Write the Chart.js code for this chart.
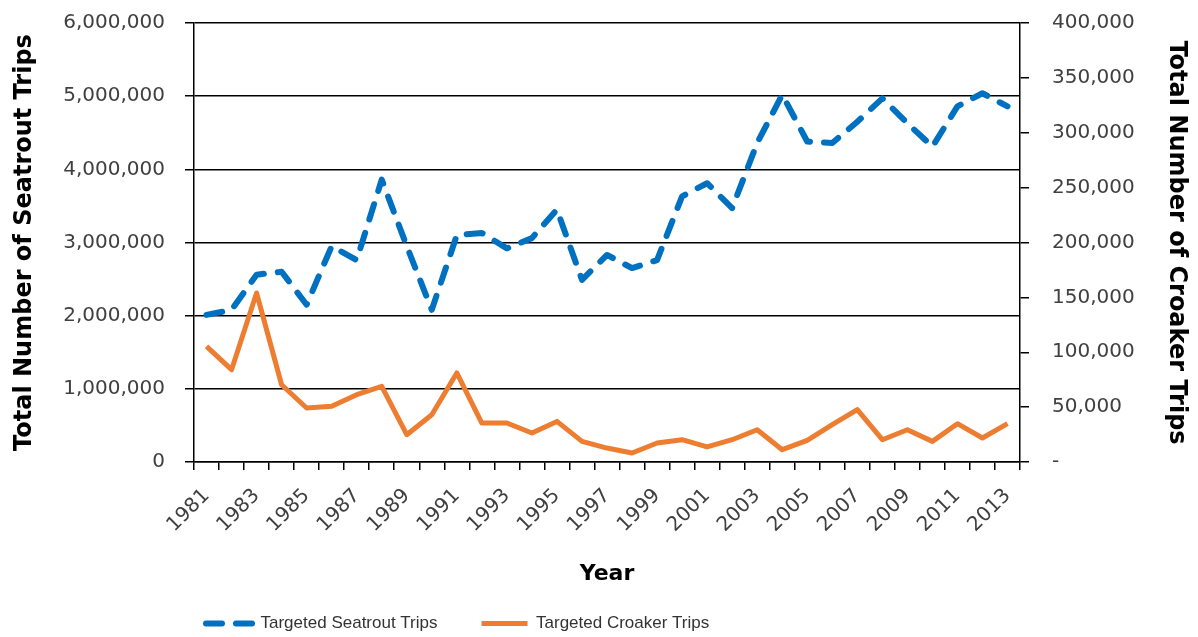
<!DOCTYPE html>
<html>
<head>
<meta charset="utf-8">
<script src="https://cdn.jsdelivr.net/npm/chart.js@4"></script>
<style>
    html, body { margin: 0; padding: 0; background: #ffffff; }
    #wrap { width: 1198px; height: 637px; }
</style>
</head>
<body>
<div id="wrap"><canvas id="chart-trips"></canvas></div>
<script>
const years = ["1981", "1982", "1983", "1984", "1985", "1986", "1987", "1988", "1989", "1990",
    "1991", "1992", "1993", "1994", "1995", "1996", "1997", "1998", "1999", "2000",
    "2001", "2002", "2003", "2004", "2005", "2006", "2007", "2008", "2009", "2010",
    "2011", "2012", "2013"]

const seatroutTrips = [2010000, 2080000, 2560000, 2600000, 2150000, 2950000, 2760000, 3860000, 2950000, 2080000,
    3100000, 3130000, 2920000, 3060000, 3450000, 2490000, 2830000, 2650000, 2760000, 3630000,
    3810000, 3470000, 4360000, 5020000, 4380000, 4360000, 4650000, 4970000, 4630000, 4310000,
    4860000, 5040000, 4860000]

const croakerTrips = [105300, 84100, 154000, 70400, 49200, 50700, 61300, 68900, 24900, 43100,
    81100, 35500, 35500, 26400, 37000, 18800, 12700, 8200, 17300, 20300,
    13700, 20300, 29400, 11200, 19700, 34000, 47700, 20300, 29400, 18800,
    34900, 21900, 34900]

const seatroutTicks = { min: 0, max: 6000000, step: 1000000 }
const croakerTicks = { min: 0, max: 400000, step: 50000 }

const numberFont = { family: "'DejaVu Sans', sans-serif", size: 20 }
const titleFont = { family: "'DejaVu Sans', sans-serif", size: 24, weight: "bold" }

// fixed axis widths; drop the tick padding from the top/bottom overhang
const fitSide = (width) => (scale) => {
    scale.width = width
    scale.paddingTop = 11
    scale.paddingBottom = 11
}

// move the legend under the left half of the plot, like the original
const legendPlacer = {
    id: "legendPlacer",
    afterLayout(chart) {
        const legend = chart.legend
        const pad = legend.options.labels.padding
        legend.left = 206 - pad
        legend.top = 567 + (48 - pad)
    }
}

new Chart(document.getElementById("chart-trips"), {
    type: "line",
    data: {
        labels: years,
        datasets: [{
            label: "Targeted Seatrout Trips",
            data: seatroutTrips,
            yAxisID: "y",
            borderColor: "#0070C0",
            backgroundColor: "#0070C0",
            borderWidth: 6,
            borderDash: [16, 14],
            borderCapStyle: "round",
            borderJoinStyle: "round",
            pointRadius: 0,
            tension: 0
        }, {
            label: "Targeted Croaker Trips",
            data: croakerTrips,
            yAxisID: "y1",
            borderColor: "#ED7D31",
            backgroundColor: "#ED7D31",
            borderWidth: 5,
            borderJoinStyle: "round",
            pointRadius: 0,
            tension: 0
        }]
    },
    options: {
        responsive: true,
        maintainAspectRatio: false,
        animation: false,
        layout: {
            padding: { top: 23, left: 0, right: 0, bottom: 0 }
        },
        plugins: {
            tooltip: { enabled: false },
            legend: {
                position: "bottom",
                align: "start",
                maxHeight: 40,
                labels: {
                    usePointStyle: true,
                    pointStyle: "line",
                    pointStyleWidth: 46,
                    padding: 44,
                    color: "#333333",
                    font: { family: "'Liberation Sans', sans-serif", size: 17 },
                    generateLabels: (chart) => {
                        const items = Chart.defaults.plugins.legend.labels.generateLabels(chart)
                        items.forEach((item) => {
                            const ds = chart.data.datasets[item.datasetIndex]
                            item.lineDash = ds.borderDash || []
                            item.lineCap = ds.borderCapStyle || "butt"
                            item.lineWidth = ds.borderWidth
                            item.strokeStyle = ds.borderColor
                        })
                        return items
                    }
                }
            }
        },
        scales: {
            x: {
                offset: true,
                afterFit: (scale) => { scale.height = 135 },
                grid: {
                    offset: true,
                    drawOnChartArea: false,
                    drawTicks: true,
                    tickLength: 8,
                    color: "#000000",
                    lineWidth: 1.5
                },
                border: { color: "#000000", width: 1.5 },
                ticks: {
                    autoSkip: false,
                    maxRotation: 45,
                    minRotation: 45,
                    padding: 14,
                    color: "#404040",
                    font: { family: "'DejaVu Sans', sans-serif", size: 20 },
                    callback: (value, index) => index % 2 === 0 ? years[index] : ""
                },
                title: {
                    display: true,
                    text: "Year",
                    color: "#000000",
                    font: { family: "'DejaVu Sans', sans-serif", size: 22, weight: "bold" },
                    padding: { top: 0, bottom: 10 }
                }
            },
            y: {
                position: "left",
                min: seatroutTicks.min,
                max: seatroutTicks.max,
                afterFit: fitSide(194),
                grid: {
                    color: "#000000",
                    lineWidth: 1.5,
                    tickLength: 9
                },
                border: { color: "#000000", width: 1.5 },
                ticks: {
                    stepSize: seatroutTicks.step,
                    padding: 20,
                    color: "#404040",
                    font: numberFont,
                    callback: (value) => value.toLocaleString("en-US")
                },
                title: {
                    display: true,
                    text: "Total Number of Seatrout Trips",
                    color: "#000000",
                    font: titleFont,
                    padding: { top: 10, bottom: 0 }
                }
            },
            y1: {
                position: "right",
                min: croakerTicks.min,
                max: croakerTicks.max,
                afterFit: fitSide(178),
                grid: {
                    drawOnChartArea: false,
                    color: "#000000",
                    lineWidth: 1.5,
                    tickLength: 9
                },
                border: { color: "#000000", width: 1.5 },
                ticks: {
                    stepSize: croakerTicks.step,
                    padding: 23,
                    color: "#404040",
                    font: numberFont,
                    callback: (value) => value === 0 ? "-" : value.toLocaleString("en-US")
                },
                title: {
                    display: true,
                    text: "Total Number of Croaker Trips",
                    color: "#000000",
                    font: titleFont,
                    padding: { top: 7, bottom: 0 }
                }
            }
        }
    },
    plugins: [legendPlacer]
})
</script>
</body>
</html>
